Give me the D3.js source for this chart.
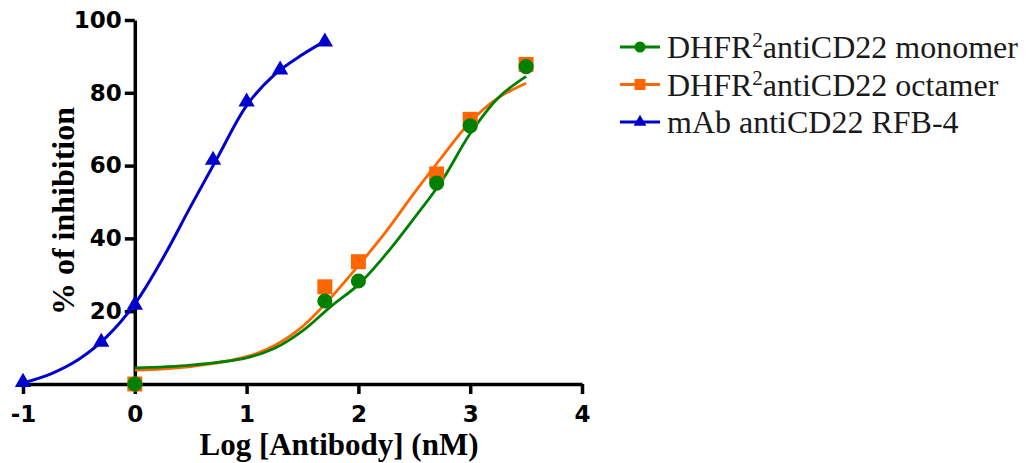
<!DOCTYPE html>
<html>
<head>
<meta charset="utf-8">
<script src="https://cdn.jsdelivr.net/npm/d3@7"></script>
<style>
  body { margin: 0; background: #fff; }
</style>
</head>
<body>
<svg id="chart"></svg>
<script>
// measured points, x = log10 dose (nM)
const doseLog = [0, 1.7, 2, 2.7, 3, 3.5];
const monomerInhib = [0, 22.8, 28.3, 55.2, 70.9, 87.2];
const octamerInhib = [0, 26.7, 33.6, 57.7, 72.7, 87.8];

const mabDoseLog = [-1, -0.3, 0, 0.7, 1, 1.3, 1.7];
const mabInhib = [0.5, 11.5, 21.7, 61.5, 77.5, 86.3, 94];

// fitted curves at regular steps
const fitLog = [0, 0.5, 1, 1.25, 1.5, 1.75, 2, 2.25, 2.5, 2.75, 3, 3.25, 3.5];
const monomerFit = [4.4, 5.2, 7.2, 9.8, 14.6, 21.2, 27.3, 35.8, 45.6, 56, 68.8, 78.6, 84.5];
const octamerFit = [3.8, 4.8, 7.5, 10.6, 15.8, 23.6, 32.5, 42, 52.5, 62.5, 72, 78.6, 82.6];

const mabFitLog = [-1, -0.75, -0.5, -0.25, 0, 0.25, 0.5, 0.75, 1, 1.25, 1.5, 1.7];
const mabFit = [0.3, 2.8, 6.8, 13, 22, 34.5, 48.8, 62.8, 76.5, 85, 90.5, 94.2];

const xTicks = [-1, 0, 1, 2, 3, 4];
const yTicks = [20, 40, 60, 80, 100];
const seriesNames = ["DHFR|2|antiCD22 monomer", "DHFR|2|antiCD22 octamer", "mAb antiCD22 RFB-4"];

const width = 1033;
const height = 463;
const green = "#008000", orange = "#ff6600", blue = "#0000cc";

const svg = d3.select("#chart")
  .attr("width", width)
  .attr("height", height)
  .style("background", "#fff");

// scales
const x = d3.scaleLinear().domain([-1, 4]).range([23, 582]);
const y = d3.scaleLinear().domain([0, 100]).range([384, 20]);

// axes
const xAxis = d3.axisBottom(x).tickValues(xTicks).tickFormat(d3.format("d"))
  .tickSize(10).tickSizeOuter(0).tickPadding(12);
const yAxis = d3.axisLeft(y).tickValues(yTicks)
  .tickSize(10).tickSizeOuter(0).tickPadding(3);

const gx = svg.append("g")
  .attr("transform", "translate(0," + y(0) + ")")
  .call(xAxis);
const gy = svg.append("g")
  .attr("transform", "translate(" + x(0) + ",0)")
  .call(yAxis);

[gx, gy].forEach(g => {
  g.select(".domain").attr("stroke", "#000").attr("stroke-width", 3.5);
  g.selectAll(".tick line").attr("stroke", "#000").attr("stroke-width", 3.5);
  g.selectAll(".tick text")
    .attr("fill", "#000")
    .style("font-family", "'DejaVu Sans', sans-serif")
    .style("font-weight", "bold")
    .style("font-size", "23px");
});
gx.selectAll(".tick text").text(d => d < 0 ? "-" + Math.abs(d) : d);

// axis titles
svg.append("text")
  .attr("x", 339)
  .attr("y", 455)
  .attr("text-anchor", "middle")
  .style("font-family", "'Liberation Serif', 'Times New Roman', serif")
  .style("font-weight", "bold")
  .style("font-size", "31px")
  .text("Log [Antibody] (nM)");

svg.append("text")
  .attr("transform", "translate(74,211) rotate(-90)")
  .attr("text-anchor", "middle")
  .style("font-family", "'Liberation Serif', 'Times New Roman', serif")
  .style("font-weight", "bold")
  .style("font-size", "32px")
  .text("% of inhibition");

// fit curves
const line = d3.line()
  .x(d => x(d[0]))
  .y(d => y(d[1]))
  .curve(d3.curveCatmullRom.alpha(0.5));

const curves = [
  { xs: mabFitLog, ys: mabFit, color: blue, w: 3 },
  { xs: fitLog, ys: octamerFit, color: orange, w: 2.8 },
  { xs: fitLog, ys: monomerFit, color: green, w: 2.8 }
];
curves.forEach(c => {
  svg.append("path")
    .datum(d3.zip(c.xs, c.ys))
    .attr("d", line)
    .attr("fill", "none")
    .attr("stroke", c.color)
    .attr("stroke-width", c.w);
});

// markers
const marks = [
  { xs: mabDoseLog, ys: mabInhib, color: blue, type: d3.symbolTriangle, size: 115 },
  { xs: doseLog, ys: octamerInhib, color: orange, type: d3.symbolSquare, size: 225 },
  { xs: doseLog, ys: monomerInhib, color: green, type: d3.symbolCircle, size: 180 }
];
marks.forEach(m => {
  svg.append("g")
    .selectAll("path")
    .data(d3.zip(m.xs, m.ys))
    .enter()
    .append("path")
    .attr("transform", d => "translate(" + x(d[0]) + "," + y(d[1]) + ")")
    .attr("d", d3.symbol().type(m.type).size(m.size))
    .attr("fill", m.color);
});

// legend
const legendItems = [
  { name: seriesNames[0], color: green, type: d3.symbolCircle, size: 95 },
  { name: seriesNames[1], color: orange, type: d3.symbolSquare, size: 121 },
  { name: seriesNames[2], color: blue, type: d3.symbolTriangle, size: 70 }
];
const legend = svg.append("g");
legendItems.forEach((item, i) => {
  const base = 58 + i * 37.5;
  const cy = base - 11;
  const row = legend.append("g");
  row.append("line")
    .attr("x1", 620).attr("x2", 660)
    .attr("y1", cy).attr("y2", cy)
    .attr("stroke", item.color)
    .attr("stroke-width", 3);
  row.append("path")
    .attr("transform", "translate(640," + cy + ")")
    .attr("d", d3.symbol().type(item.type).size(item.size))
    .attr("fill", item.color);
  const t = row.append("text")
    .attr("x", 667)
    .attr("y", base)
    .attr("fill", "#1a1a1a")
    .style("font-family", "'Liberation Serif', 'Times New Roman', serif")
    .style("font-size", "32px");
  const parts = item.name.split("|");
  if (parts.length === 3) {
    t.append("tspan").text(parts[0]);
    t.append("tspan").attr("dy", -11).style("font-size", "21px").text(parts[1]);
    t.append("tspan").attr("dy", 11).text(parts[2]);
  } else {
    t.text(item.name);
  }
});
</script>
</body>
</html>
